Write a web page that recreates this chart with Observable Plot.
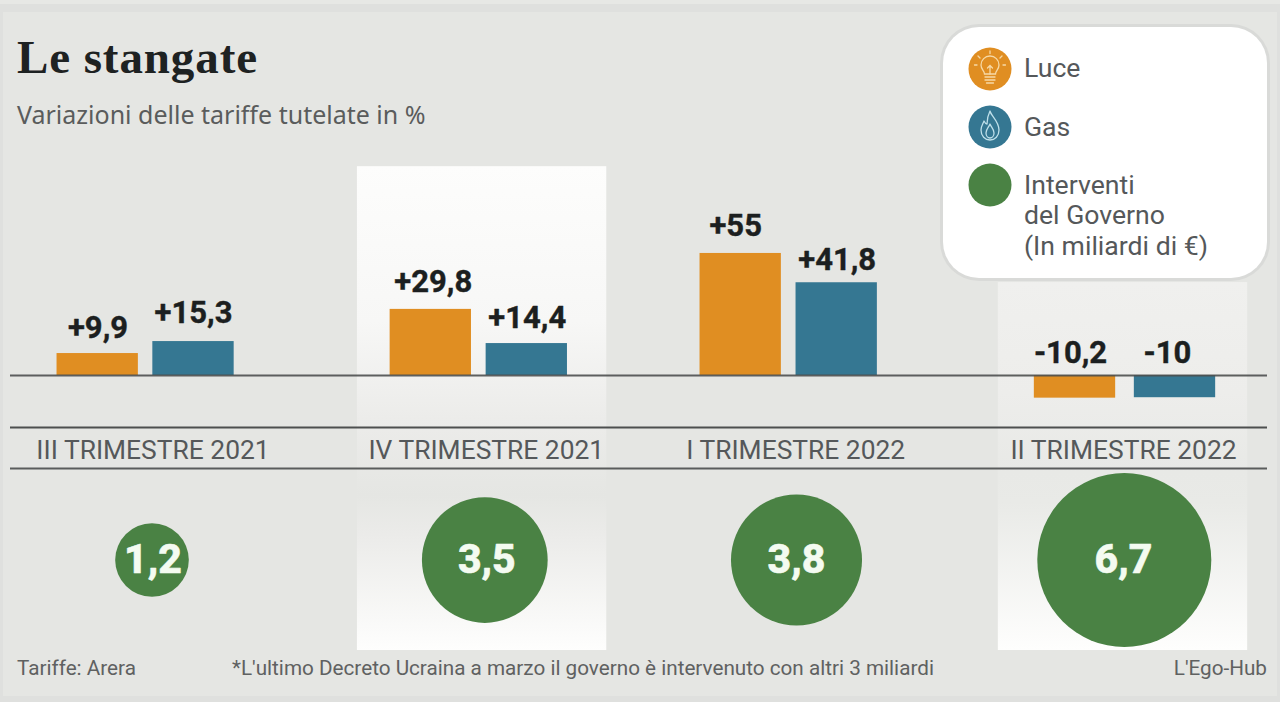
<!DOCTYPE html>
<html lang="it"><head><meta charset="utf-8">
<script src="https://cdn.jsdelivr.net/npm/d3@7"></script>
<script src="https://cdn.jsdelivr.net/npm/@observablehq/plot@0.6"></script>
<style>
html,body{margin:0;padding:0;background:#dfe0de;width:1280px;height:702px;overflow:hidden}
#sheet{position:absolute;left:3px;top:12px;width:1274px;height:684px;background:#e5e6e3}
#band{position:absolute;left:0;top:0;width:1280px;height:4px;background:#e7e8e5}
.abs{position:absolute;white-space:nowrap}
#title{left:17px;top:30px;font:700 47px/54px "Liberation Serif",serif;letter-spacing:.9px;color:#1e2222}
#subtitle{left:17px;top:98px;font:400 25px/32px "Noto Sans",sans-serif;color:#5a5c5c}
#chart{position:absolute;left:0;top:130px}
#legend{left:943px;top:27px;width:324px;height:251px;background:#fff;border-radius:36px;box-shadow:0 0 0 3px #d9dad8}
.lg{position:absolute;left:1024px;font:400 26.6px/30px Roboto,sans-serif;color:#55585a}
.foot{position:absolute;top:655px;font:400 20.7px/26px Roboto,sans-serif;color:#5f6161}
</style></head><body>
<div id="band"></div><div id="sheet"></div>
<div class="abs" id="title">Le stangate</div>
<div class="abs" id="subtitle">Variazioni delle tariffe tutelate in %</div>
<div id="chart"></div>
<div class="abs" id="legend"></div>
<svg class="abs" style="left:968px;top:47px" width="44" height="160" viewBox="0 0 44 160">
  <circle cx="22" cy="22" r="21.5" fill="#e08e22"/>
  <g fill="none" stroke="#f6d9a6" stroke-width="1.3" stroke-linecap="round">
    <path d="M16.5 27c0-3-3.5-4.5-3.5-9a9 9 0 0 1 18 0c0 4.500-3.500 6-3.500 9z"/>
    <path d="M17 30h10M17 33h10M18.500 36h7M22 27v-8M19.500 21l2.500-2.500 2.500 2.500"/>
    <path d="M22 4v2.500M10 9l2 2M34 9l-2 2M6.500 18H9M35 18h2.500"/>
  </g>
  <circle cx="22" cy="80" r="21.5" fill="#357792"/>
  <g fill="none" stroke="#bfe0ea" stroke-width="1.3" stroke-linejoin="round">
    <path d="M22 64c1 5 9 10 9 19 0 6-4 10-9 10s-9-4-9-10c0-4 2-6 3-9 1 2 2 3 3 3 0-5 1-9 3-13z"/>
    <path d="M22 77c1 3 4 5 4 9 0 3-2 5-4 5s-4-2-4-5c0-4 3-6 4-9z"/>
  </g>
  <circle cx="22" cy="138" r="21.5" fill="#4a8244"/>
</svg>
<div class="lg" style="top:53px">Luce</div>
<div class="lg" style="top:112px">Gas</div>
<div class="lg" style="top:170px">Interventi</div>
<div class="lg" style="top:200px">del Governo</div>
<div class="lg" style="top:231px">(In miliardi di €)</div>
<div class="foot" style="left:17px">Tariffe: Arera</div>
<div class="foot" style="left:232px">*L'ultimo Decreto Ucraina a marzo il governo è intervenuto con altri 3 miliardi</div>
<div class="foot" style="right:13px">L'Ego-Hub</div>
<script>
const quarters = ["III TRIMESTRE 2021", "IV TRIMESTRE 2021", "I TRIMESTRE 2022", "II TRIMESTRE 2022"];
const luce = [9.9, 29.8, 55, -10.2];
const gas = [15.3, 14.4, 41.8, -10];
const interventi = [1.2, 3.5, 3.8, 6.7];

const colors = {Luce: "#e08e22", Gas: "#357792", Interventi: "#4a8244"};
const fontFamily = "Roboto, sans-serif";
const fmt = (v) => (v > 0 ? "+" : "") + String(v).replace(".", ",");

// Horizontal nudges from the evenly spaced band centres: the original's columns are not evenly spaced.
const step = 980 / 3;
const barW = 82;
const barInset = (step - barW) / 2;
const offs = {
  luce:  [-47.8, -40.7, -56.8, -48.5],
  gas:   [48, 55.3, 39.2, 51.5],
  luceT: [-47.5, -38.2, -61.8, -53],
  gasT:  [48, 55.8, 39.7, 44],
  luceY: [-25, -27, -27, -22],
  gasY:  [-28, -25, -23, -22],
  label: [7.5, 14.8, -1.8, 0],
  dot:   [6.5, 13.3, -1, 0.8],
  txt:   [7.5, 15.3, -1, 0],
  panel: [0, 10.6, 0, -2.5 + 2]
};
const rows = quarters.map((q, i) => ({q, i, luce: luce[i], gas: gas[i], interventi: interventi[i]}));

const defs = () => {
  const d = d3.create("svg:defs");
  const g = (id, stops) => {
    const lg = d.append("linearGradient").attr("id", id).attr("x1", 0).attr("x2", 0).attr("y1", 0).attr("y2", 1);
    stops.forEach(([o, c]) => lg.append("stop").attr("offset", o).attr("stop-color", c));
  };
  g("panelIV", [[0, "#fdfdfc"], [0.32, "#f7f7f6"], [0.52, "#ececea"], [0.68, "#e5e6e3"], [0.76, "#ebebe9"], [1, "#fefefd"]]);
  g("panelII", [[0, "#f0f0ee"], [0.3, "#ededeb"], [0.52, "#e8e9e6"], [0.6, "#e9eae7"], [1, "#fefefd"]]);
  return d.node();
};

const panel = (i, top, id) => Plot.barY([rows[i]], {
  x: "q", y1: top, y2: -123.9, fill: `url(#${id})`,
  dx: offs.panel[i], insetLeft: (step - 250) / 2, insetRight: (step - 250) / 2
});

const marks = [
  defs,
  panel(1, 94.1, "panelIV"),
  panel(3, 41.9, "panelII"),
  ...rows.flatMap((r) => [
    Plot.barY([r], {x: "q", y: "luce", fill: colors.Luce, dx: offs.luce[r.i], insetLeft: barInset, insetRight: barInset}),
    Plot.barY([r], {x: "q", y: "gas", fill: colors.Gas, dx: offs.gas[r.i], insetLeft: barInset, insetRight: barInset})
  ]),
  Plot.ruleY([0], {stroke: "#4d4f4f", strokeWidth: 2, strokeOpacity: 0.9}),
  Plot.ruleY([0], {dy: 52, stroke: "#4d4f4f", strokeWidth: 2}),
  Plot.ruleY([0], {dy: 93, stroke: "#5a5c5c", strokeWidth: 2}),
  ...rows.flatMap((r) => {
    const base = {x: "q", fontFamily, fontSize: 31, fontWeight: 700, fill: "#1c1f20", stroke: "#1c1f20", strokeWidth: 0.4};
    const luceUp = Math.max(r.luce, 0), gasUp = Math.max(r.gas, 0);
    return [
      Plot.text([r], {...base, y: () => luceUp, text: (d) => fmt(d.luce), dx: offs.luceT[r.i], dy: offs.luceY[r.i]}),
      Plot.text([r], {...base, y: () => gasUp, text: (d) => fmt(d.gas), dx: offs.gasT[r.i], dy: offs.gasY[r.i]}),
      Plot.text([r], {x: "q", y: () => 0, text: "q", dx: offs.label[r.i], dy: 75, fontFamily, fontSize: 26.4, fill: "#55585a"}),
      Plot.dot([r], {x: "q", y: () => 0, dx: offs.dot[r.i], dy: 184.5, r: "interventi", fill: colors.Interventi}),
      Plot.text([r], {x: "q", y: () => 0, text: (d) => fmt(d.interventi).replace("+", ""), dx: offs.txt[r.i], dy: 184.5, fontFamily, fontSize: 41, fontWeight: 800, fill: "#f4fbf1", stroke: "#f4fbf1", strokeWidth: 0.6})
    ];
  })
];

const plot = Plot.plot({
  width: 1280, height: 520,
  marginTop: 0, marginBottom: 0, marginLeft: 10, marginRight: 13,
  style: {background: "transparent", overflow: "visible"},
  x: {type: "band", domain: quarters, range: [144.5 - step / 2, 1124.5 + step / 2], padding: 0, axis: null},
  y: {domain: [-123.9, 110.4], range: [520, 0], axis: null},
  r: {type: "sqrt", domain: [0, 6.7], range: [0, 87]},
  marks
});
document.getElementById("chart").append(plot);
</script>
</body></html>
